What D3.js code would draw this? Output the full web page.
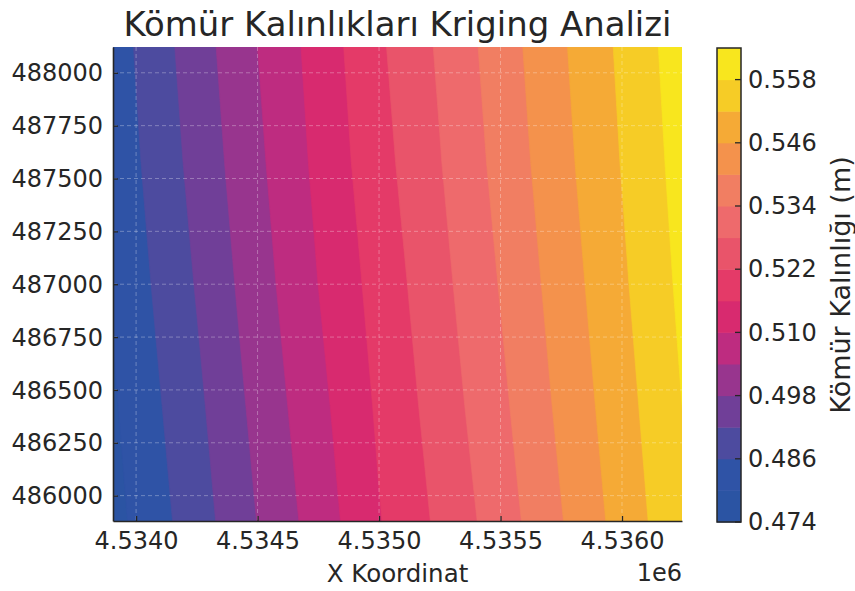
<!DOCTYPE html>
<html><head><meta charset="utf-8">
<script src="https://cdn.jsdelivr.net/npm/d3@7"></script>
<style>body{margin:0;background:#fff}</style>
</head><body>
<svg id="chart" width="855" height="591"></svg>
<script>
// ---------- data ----------
const titleText = "Kömür Kalınlıkları Kriging Analizi";
const xLabelText = "X Koordinat";
const xOffsetText = "1e6";
const cbarLabelText = "Kömür Kalınlığı (m)";

// kriging grid: eastings (columns) and northings (rows, top to bottom)
const gridEastings = [4533750, 4534000, 4534250, 4534500, 4534750, 4535000, 4535250, 4535500, 4535750, 4536000, 4536250, 4536500];
const gridNorthings = [488150, 487575, 487000, 486425, 485850];
// estimated coal thickness (m) at each grid node
const thicknessN488150 = [0.47775, 0.48643, 0.49526, 0.50407, 0.51243, 0.52110, 0.52890, 0.53707, 0.54523, 0.55320, 0.56130, 0.56940];
const thicknessN487575 = [0.47683, 0.48530, 0.49396, 0.50281, 0.51140, 0.51986, 0.52772, 0.53588, 0.54417, 0.55227, 0.56037, 0.56847];
const thicknessN487000 = [0.47543, 0.48391, 0.49241, 0.50136, 0.51003, 0.51832, 0.52622, 0.53435, 0.54276, 0.55105, 0.55933, 0.56761];
const thicknessN486425 = [0.47417, 0.48245, 0.49074, 0.49974, 0.50832, 0.51691, 0.52472, 0.53270, 0.54129, 0.54968, 0.55810, 0.56658];
const thicknessN485850 = [0.47297, 0.48107, 0.48917, 0.49807, 0.50667, 0.51556, 0.52309, 0.53093, 0.53960, 0.54823, 0.55682, 0.56550];

const levels = [0.474, 0.480, 0.486, 0.492, 0.498, 0.504, 0.510, 0.516, 0.522, 0.528, 0.534, 0.540, 0.546, 0.552, 0.558, 0.564];
const bandColors = ["#2b54a3", "#2f53a6", "#4d4b9f", "#703f98", "#98358e", "#be2c80", "#d82a6f", "#e43a68",
                    "#e9546a", "#ee6a6c", "#f17e62", "#f4924c", "#f5aa36", "#f6cc26", "#f8e61e"];

const xDomain = [4533905, 4536247];
const yDomain = [485880, 488122];
const xTicks = [4534000, 4534500, 4535000, 4535500, 4536000];
const xTickLabels = ["4.5340", "4.5345", "4.5350", "4.5355", "4.5360"];
const yTicks = [486000, 486250, 486500, 486750, 487000, 487250, 487500, 487750, 488000];
const yTickLabels = ["486000", "486250", "486500", "486750", "487000", "487250", "487500", "487750", "488000"];
const cbarTicks = [0.474, 0.486, 0.498, 0.510, 0.522, 0.534, 0.546, 0.558];
const cbarTickLabels = ["0.474", "0.486", "0.498", "0.510", "0.522", "0.534", "0.546", "0.558"];

// ---------- layout ----------
const plot = {left: 113, right: 682, top: 47, bottom: 521};
const cbar = {left: 717, right: 741, top: 48, bottom: 522};
const FONT = "DejaVu Sans, sans-serif";
const INK = "#262626";

const svg = d3.select("#chart");
const x = d3.scaleLinear().domain(xDomain).range([plot.left, plot.right]);
const y = d3.scaleLinear().domain(yDomain).range([plot.bottom, plot.top]);

// clip
svg.append("defs").append("clipPath").attr("id", "plotclip")
  .append("rect").attr("x", plot.left).attr("y", plot.top)
  .attr("width", plot.right - plot.left).attr("height", plot.bottom - plot.top);

// ---------- filled contours ----------
const rows = [thicknessN488150, thicknessN487575, thicknessN487000, thicknessN486425, thicknessN485850];
const nx = gridEastings.length, ny = gridNorthings.length;
const values = [].concat(...rows);
const gx = d3.scaleLinear().domain([0.5, nx - 0.5]).range([gridEastings[0], gridEastings[nx - 1]]);
const gy = d3.scaleLinear().domain([0.5, ny - 0.5]).range([gridNorthings[0], gridNorthings[ny - 1]]);
const proj = d3.geoTransform({point(px, py) { this.stream.point(x(gx(px)), y(gy(py))); }});
const path = d3.geoPath(proj);
const contours = d3.contours().size([nx, ny]).thresholds(levels.slice(0, -1))(values);

const field = svg.append("g").attr("clip-path", "url(#plotclip)");
field.append("rect").attr("x", plot.left).attr("y", plot.top)
  .attr("width", plot.right - plot.left).attr("height", plot.bottom - plot.top)
  .attr("fill", bandColors[0]);
field.selectAll("path.band").data(contours).join("path")
  .attr("class", "band")
  .attr("d", path)
  .attr("fill", (d, i) => bandColors[i])
  .attr("stroke", (d, i) => bandColors[i])
  .attr("stroke-width", 0.6);

// grid lines
const grid = svg.append("g").attr("clip-path", "url(#plotclip)")
  .attr("stroke", "#ffffff").attr("stroke-opacity", 0.3).attr("stroke-width", 1)
  .attr("stroke-dasharray", "4,3");
grid.selectAll("line.h").data(yTicks).join("line").attr("class", "h")
  .attr("x1", plot.left).attr("x2", plot.right).attr("y1", d => y(d)).attr("y2", d => y(d));
grid.selectAll("line.v").data(xTicks).join("line").attr("class", "v")
  .attr("y1", plot.top).attr("y2", plot.bottom).attr("x1", d => x(d)).attr("x2", d => x(d));

// ---------- axes ----------
const xAxis = d3.axisBottom(x).tickValues(xTicks).tickFormat((d, i) => xTickLabels[i])
  .tickSizeInner(-5).tickSizeOuter(0).tickPadding(10.5);
const gX = svg.append("g").attr("transform", `translate(0,${plot.bottom})`).call(xAxis);
const yAxis = d3.axisLeft(y).tickValues(yTicks).tickFormat((d, i) => yTickLabels[i])
  .tickSizeInner(-5).tickSizeOuter(0).tickPadding(10);
const gY = svg.append("g").attr("transform", `translate(${plot.left},0)`).call(yAxis);
[gX, gY].forEach(g => {
  g.attr("color", INK);
  g.select(".domain").attr("stroke-width", 1.6);
  g.selectAll(".tick line").attr("stroke-width", 1.3);
  g.selectAll("text").attr("font-family", FONT).attr("font-size", 24).attr("fill", INK);
});
gY.selectAll("text").attr("dy", "0.34em");

// ---------- titles ----------
const title = svg.append("text").attr("x", (plot.left + plot.right) / 2).attr("y", 36)
  .attr("text-anchor", "middle").attr("font-family", FONT).attr("font-size", 34)
  .attr("fill", INK).text(titleText);
const tl = title.node().getComputedTextLength();
if (tl > 0) title.attr("font-size", 34 * 548 / tl);

svg.append("text").attr("x", (plot.left + plot.right) / 2).attr("y", 582)
  .attr("text-anchor", "middle").attr("font-family", FONT).attr("font-size", 24.5)
  .attr("fill", INK).text(xLabelText);
svg.append("text").attr("x", plot.right).attr("y", 581)
  .attr("text-anchor", "end").attr("font-family", FONT).attr("font-size", 24)
  .attr("fill", INK).text(xOffsetText);

// ---------- colorbar ----------
const c = d3.scaleLinear().domain([levels[0], levels[levels.length - 1]]).range([cbar.bottom, cbar.top]);
const bands = d3.range(levels.length - 1);
svg.append("g").selectAll("rect").data(bands).join("rect")
  .attr("x", cbar.left).attr("width", cbar.right - cbar.left)
  .attr("y", i => c(levels[i + 1])).attr("height", i => c(levels[i]) - c(levels[i + 1]) + 0.5)
  .attr("fill", i => bandColors[i]);
svg.append("rect").attr("x", cbar.left).attr("y", cbar.top)
  .attr("width", cbar.right - cbar.left).attr("height", cbar.bottom - cbar.top)
  .attr("fill", "none").attr("stroke", INK).attr("stroke-width", 1.5);
const cg = svg.append("g");
cg.selectAll("line").data(cbarTicks).join("line")
  .attr("x1", cbar.right - 6).attr("x2", cbar.right)
  .attr("y1", d => c(d)).attr("y2", d => c(d))
  .attr("stroke", INK).attr("stroke-width", 1.3);
cg.selectAll("text").data(cbarTicks).join("text")
  .attr("x", 748).attr("y", d => c(d)).attr("dy", "0.34em")
  .attr("font-family", FONT).attr("font-size", 24).attr("fill", INK)
  .text((d, i) => cbarTickLabels[i]);
svg.append("text")
  .attr("transform", `translate(850,${(cbar.top + cbar.bottom) / 2}) rotate(-90)`)
  .attr("text-anchor", "middle").attr("font-family", FONT).attr("font-size", 27)
  .attr("fill", INK).text(cbarLabelText);
</script>
</body></html>
